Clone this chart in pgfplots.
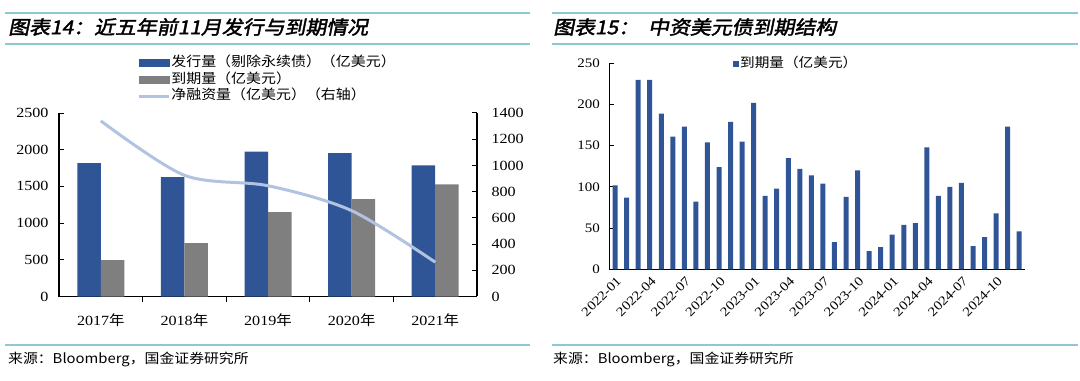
\documentclass[border=0pt]{standalone}
\usepackage{fontspec}
\usepackage{pgfplots}
\pgfplotsset{compat=1.18}
\setmainfont[FakeStretch=1.15]{Liberation Serif}
\newfontfamily\cjk[FakeStretch=1.1]{Noto Sans CJK SC}
\newfontfamily\cjkt[FakeStretch=1.1,FakeSlant=0.2,FakeBold=2]{Noto Sans CJK SC}
\definecolor{barblue}{HTML}{2F5597}
\definecolor{bargray}{HTML}{7F7F7F}
\definecolor{linec}{HTML}{B2C3E2}
\definecolor{rulec}{HTML}{8CC9D3}
\begin{document}
\begin{tikzpicture}
\path[use as bounding box] (0bp,0bp) rectangle (1080bp,381bp);
% rules
\draw[rulec, line width=2bp] (5bp,368bp) -- (530bp,368bp);
\draw[rulec, line width=2bp] (5bp,337bp) -- (530bp,337bp);
\draw[rulec, line width=2bp] (5bp,36bp) -- (530bp,36bp);
\draw[rulec, line width=2bp] (552bp,368bp) -- (1078bp,368bp);
\draw[rulec, line width=2bp] (552bp,337bp) -- (1078bp,337bp);
\draw[rulec, line width=2bp] (552bp,36bp) -- (1078bp,36bp);
% titles
\node[anchor=west, inner sep=0pt, font=\cjkt\fontsize{19bp}{21bp}\selectfont] at (8bp,354bp) {图表14：近五年前11月发行与到期情况};
\node[anchor=west, inner sep=0pt, font=\cjkt\fontsize{19bp}{21bp}\selectfont] at (553bp,354bp) {图表15：\hspace{9bp}中资美元债到期结构};
% sources
\node[anchor=west, inner sep=0pt, font=\cjk\fontsize{13.5bp}{15bp}\selectfont] at (8bp,22bp) {来源：Bloomberg，国金证券研究所};
\node[anchor=west, inner sep=0pt, font=\cjk\fontsize{13.5bp}{15bp}\selectfont] at (553bp,22bp) {来源：Bloomberg，国金证券研究所};

% ---------- left panel: bars ----------
\begin{axis}[
  at={(59bp,84.5bp)}, anchor=south west, scale only axis,
  width=418bp, height=183.5bp,
  xmin=-0.5, xmax=4.5, ymin=0, ymax=2500,
  axis x line*=bottom, axis y line*=left,
  axis line style={-, line width=1.2bp, black},
  ytick={0,500,...,2500},
  xtick={0,1,2,3,4},
  xticklabels={2017{\cjk 年},2018{\cjk 年},2019{\cjk 年},2020{\cjk 年},2021{\cjk 年}},
  major x tick style={draw=none},
  minor xtick={0.5,1.5,2.5,3.5},
  tick style={line width=1bp, black},
  major tick length=5bp, minor tick length=5bp,
  ybar=0pt, bar width=23.5bp,
  tick label style={font=\fontsize{14bp}{16bp}\selectfont},
  /pgf/number format/assume math mode=true,
  /pgf/number format/1000 sep={},
  xticklabel style={yshift=-9bp},
  yticklabel style={xshift=-7bp},
]
\addplot[fill=barblue, draw=none] coordinates {(0,1816) (1,1625) (2,1975) (3,1952) (4,1785)};
\addplot[fill=bargray, draw=none] coordinates {(0,495) (1,728) (2,1151) (3,1328) (4,1528)};
\end{axis}

% ---------- left panel: line on right axis ----------
\begin{axis}[
  at={(59bp,84.5bp)}, anchor=south west, scale only axis,
  width=418bp, height=183.5bp,
  xmin=-0.5, xmax=4.5, ymin=0, ymax=1400,
  axis x line=none, axis y line*=right,
  axis line style={-, line width=1.2bp, black},
  ytick={0,200,...,1400},
  tick style={line width=1bp, black},
  major tick length=5bp,
  tick label style={font=\fontsize{14bp}{16bp}\selectfont},
  /pgf/number format/assume math mode=true,
  /pgf/number format/1000 sep={},
  yticklabel style={xshift=11bp},
  legend style={at={(0.187,1.315)}, anchor=north west, draw=none, fill=none,
    font=\cjk\fontsize{13.6bp}{15bp}\selectfont, inner sep=0pt, row sep=1.7bp,
    nodes={inner sep=1bp, text height=10bp, text depth=3bp}},
  legend cell align=left,
]
\addlegendimage{legend image code/.code={\fill[barblue] (0bp,-3.5bp) rectangle (30bp,3.5bp);}}
\addlegendentry{发行量（剔除永续债）（亿美元）}
\addlegendimage{legend image code/.code={\fill[bargray] (0bp,-3.5bp) rectangle (30bp,3.5bp);}}
\addlegendentry{到期量（亿美元）}
\addplot[smooth, color=linec, line width=3bp,
  legend image code/.code={\draw[linec, line width=3bp] (0bp,0bp) -- (30bp,0bp);}]
  coordinates {(0,1340) (1,925) (2,845) (3,655) (4,262)};
\addlegendentry{净融资量（亿美元）（右轴）}
\end{axis}

% ---------- right panel ----------
\begin{axis}[
  at={(609.3bp,111.7bp)}, anchor=south west, scale only axis,
  width=415.7bp, height=206bp,
  xmin=-0.5, xmax=35.5, ymin=0, ymax=250,
  axis x line*=bottom, axis y line*=left,
  axis line style={-, line width=1.2bp, black},
  ytick={0,50,...,250},
  xtick={0,3,...,33},
  xticklabels={2022-01,2022-04,2022-07,2022-10,2023-01,2023-04,2023-07,2023-10,2024-01,2024-04,2024-07,2024-10},
  major x tick style={draw=none},
  tick style={line width=1bp, black},
  major tick length=5bp,
  ybar, bar width=5bp,
  tick label style={font=\fontsize{13bp}{15bp}\selectfont},
  /pgf/number format/assume math mode=true,
  xticklabel style={rotate=45, anchor=east, xshift=3bp, yshift=-6bp},
  yticklabel style={xshift=-6bp},
  legend style={at={(0.2976,0.998)}, anchor=west, draw=none, fill=none,
    font=\cjk\fontsize{13.3bp}{15bp}\selectfont, inner sep=0pt,
    nodes={inner sep=1bp, text height=10bp, text depth=3bp}},
]
\addplot[fill=barblue, draw=none,
  legend image code/.code={\fill[barblue] (0bp,-3bp) rectangle (6bp,3bp);}]
  coordinates {(0,102) (1,87) (2,230) (3,230) (4,189) (5,161) (6,173) (7,82) (8,154) (9,124) (10,179) (11,155)
  (12,202) (13,89) (14,98) (15,135) (16,122) (17,114) (18,104) (19,33) (20,88) (21,120) (22,22) (23,27)
  (24,42) (25,54) (26,56) (27,148) (28,89) (29,100) (30,105) (31,28) (32,39) (33,68) (34,173) (35,46)};
\addlegendentry{到期量（亿美元）}
\end{axis}
\end{tikzpicture}
\end{document}
